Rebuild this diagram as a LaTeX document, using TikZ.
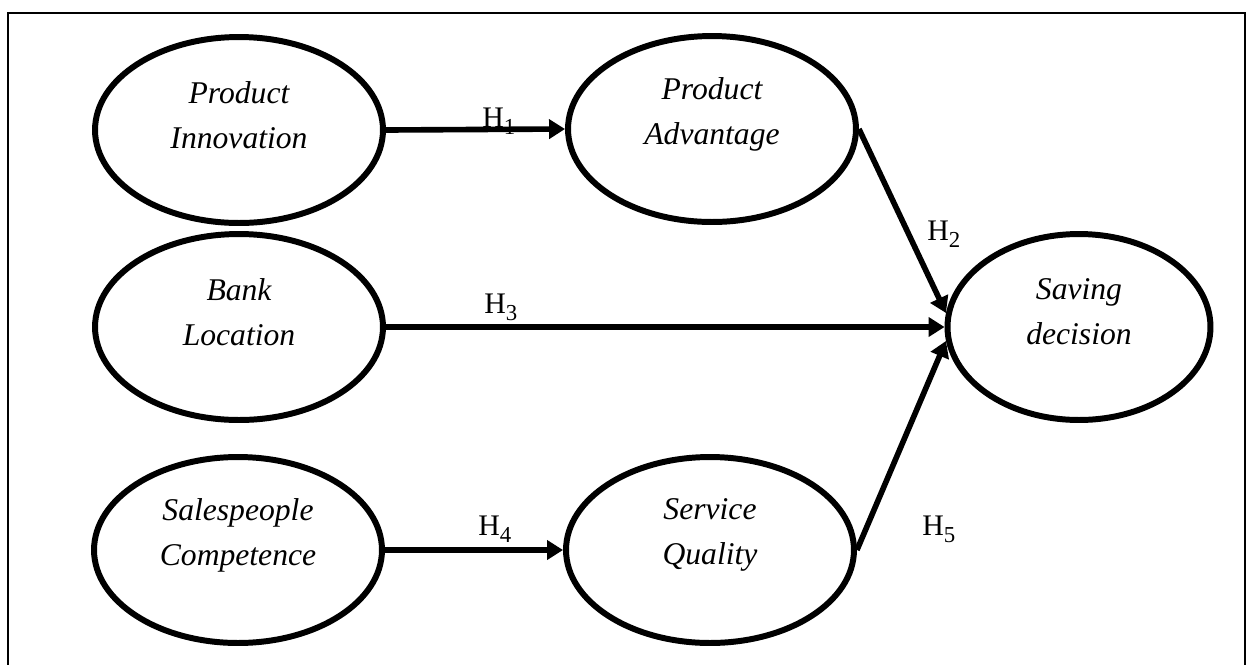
\documentclass[tikz,border=0pt]{standalone}
\usepackage{fontspec}
\setmainfont{Liberation Serif}
\usetikzlibrary{shapes.geometric, arrows.meta}

\newcommand{\conceptfont}{\fontsize{18}{25.6}\selectfont\itshape}
\newcommand{\hypfont}{\fontsize{17}{20}\selectfont}
\newcommand{\hyp}[1]{H\raisebox{-4.5pt}{\fontsize{13}{13}\selectfont #1}} % H with lowered index

\tikzset{
  construct/.style={ellipse, draw, line width=3.4pt, minimum width=5.76cm, minimum height=3.72cm, inner sep=0pt},
  construct text/.style={align=center, font=\conceptfont, yshift=0.3cm},
  path arrow/.style={line width=3.2pt, -{Triangle[length=0.32cm, width=0.38cm]}},
  hyp label/.style={font=\hypfont, anchor=base west, inner sep=0pt}
}

\begin{document}
\begin{tikzpicture}[x=0.02cm, y=-0.02cm] % 1 unit = 1 px, y downwards
  \useasboundingbox (0,0) rectangle (1249,664);
  \draw[line width=0.85pt] (8,13) rectangle (1245,720); % frame, bottom edge runs off the page

  % constructs
  \node[construct, label={[construct text]center:Product\\Innovation}] (innov) at (239,130) {};
  \node[construct, label={[construct text]center:Product\\Advantage}] (advan) at (712,129) {};
  \node[construct, label={[construct text]center:Bank\\Location}] (locat) at (239,327) {};
  \node[construct, label={[construct text]center:Salespeople\\Competence}] (compet) at (238,550) {};
  \node[construct, label={[construct text]center:Service\\Quality}] (servq) at (710,550) {};
  \node[construct, minimum width=5.26cm, label={[construct text]center:Saving\\decision}] (saving) at (1079,327) {};

  % hypotheses
  \draw[path arrow] (innov.east) -- (advan.west);
  \draw[path arrow] (advan.east) -- (saving.174);
  \draw[path arrow] (locat.east) -- (saving.west);
  \draw[path arrow] (compet.east) -- (servq.west);
  \draw[path arrow] (servq.east) -- (saving.186);

  \node[hyp label] (h1) at (482,127) {\hyp{1}};
  \node[hyp label] (h2) at (927,240) {\hyp{2}};
  \node[hyp label] (h3) at (484,313) {\hyp{3}};
  \node[hyp label] (h4) at (478,535) {\hyp{4}};
  \node[hyp label] (h5) at (922,535) {\hyp{5}};
\end{tikzpicture}
\end{document}
